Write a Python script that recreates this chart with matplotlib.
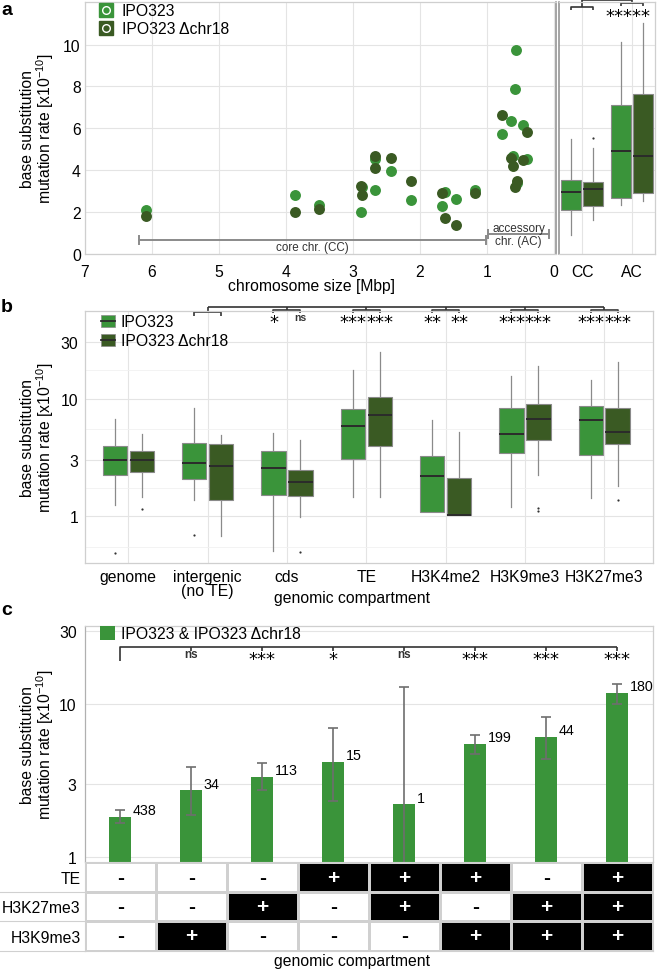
import numpy as np
import matplotlib
matplotlib.use("Agg")
import matplotlib.pyplot as plt
from matplotlib.lines import Line2D
from matplotlib.patches import Patch
from matplotlib.legend_handler import HandlerTuple
from matplotlib.colors import ListedColormap
from matplotlib.ticker import FixedLocator, NullLocator, NullFormatter

plt.rcParams["font.family"] = ["Liberation Sans", "DejaVu Sans"]
plt.rcParams["mathtext.default"] = "regular"

LIGHT = "#3A943A"
DARK = "#3A5A23"
FRAME = "#cfcfcf"
GRID = "#e4e4e4"
EDGE = "#8a8a8a"
FS = 11.3
STAR = dict(family="DejaVu Sans", fontsize=13)

# ---------------- panel a: rate per chromosome ----------------
size_wt = [6.09, 3.86, 3.50, 2.88, 2.86, 2.67, 2.67, 2.44, 2.14, 1.67, 1.62, 1.46, 1.18,
           0.77, 0.64, 0.61, 0.58, 0.57, 0.55, 0.47, 0.41]
rate_wt = [2.11, 2.82, 2.35, 1.99, 3.20, 3.07, 4.55, 3.95, 2.58, 2.28, 2.97, 2.62, 3.07,
           5.73, 6.36, 4.69, 7.88, 9.74, 3.40, 6.16, 4.55]
size_d18 = [6.09, 3.86, 3.50, 2.88, 2.86, 2.67, 2.67, 2.44, 2.14, 1.67, 1.62, 1.46, 1.18,
            0.77, 0.64, 0.61, 0.58, 0.55, 0.47, 0.41]
rate_d18 = [1.83, 2.02, 2.15, 3.23, 2.82, 4.69, 4.09, 4.57, 3.47, 2.90, 1.70, 1.38, 2.91,
            6.65, 4.57, 4.21, 3.18, 3.47, 4.50, 5.81]

# boxes CC / AC, order: CC wt, CC d18, AC wt, AC d18
a_groups = ["CC", "AC"]
a_lo = [0.92, 1.64, 2.35, 2.54]
a_q1 = [2.11, 2.31, 2.69, 2.93]
a_med = [2.96, 3.09, 4.90, 4.68]
a_q3 = [3.55, 3.42, 7.11, 7.62]
a_hi = [5.49, 5.05, 10.1, 11.03]
a_fl = [[], [5.55], [], []]

# ---------------- panel b: compartments ----------------
b_cats = ["genome", "intergenic\n(no TE)", "cds", "TE", "H3K4me2", "H3K9me3", "H3K27me3"]
b_wt_lo = [1.24, 1.39, 0.51, 1.45, 1.09, 1.19, 1.43]
b_wt_q1 = [2.23, 2.08, 1.53, 3.08, 1.09, 3.46, 3.35]
b_wt_med = [3.00, 2.85, 2.56, 5.83, 2.19, 5.03, 6.56]
b_wt_q3 = [3.94, 4.16, 3.57, 8.20, 3.28, 8.37, 8.63]
b_wt_hi = [6.65, 8.37, 5.13, 17.4, 6.52, 15.5, 14.4]
b_wt_fl = [[0.49], [0.70], [], [], [], [], []]
b_d18_lo = [1.46, 0.68, 0.98, 1.45, 1.03, 2.25, 1.80]
b_d18_q1 = [2.37, 1.37, 1.48, 3.94, 1.03, 4.43, 4.10]
b_d18_med = [3.00, 2.70, 1.97, 7.24, 1.03, 6.74, 5.23]
b_d18_q3 = [3.62, 4.08, 2.46, 10.4, 2.11, 8.93, 8.30]
b_d18_hi = [5.03, 4.86, 4.43, 24.9, 5.19, 18.9, 20.6]
b_d18_fl = [[1.16], [], [0.50], [], [], [1.18, 1.12], [1.37]]
b_sig_wt = [None, None, "*", "***", "**", "***", "***"]
b_sig_d18 = [None, None, "ns", "***", "**", "***", "***"]

# ---------------- panel c: combined marks ----------------
c_rate = [1.82, 2.71, 3.32, 4.16, 2.20, 5.46, 6.11, 11.75]
c_lo = [1.67, 1.88, 2.75, 2.31, 0.30, 4.71, 4.37, 9.95]
c_hi = [2.04, 3.86, 4.10, 6.93, 12.85, 6.30, 8.22, 13.45]
c_n = [438, 34, 113, 15, 1, 199, 44, 180]
c_sig = [None, "ns", "***", "*", "ns", "***", "***", "***"]
t_rows = ["TE", "H3K27me3", "H3K9me3"]
t_TE = [0, 0, 0, 1, 1, 1, 0, 1]
t_K27 = [0, 0, 1, 0, 1, 0, 1, 1]
t_K9 = [0, 1, 0, 0, 0, 1, 1, 1]

W, H = 657, 970
fig = plt.figure(figsize=(W / 100, H / 100), dpi=100)


def rect(l, t, r, b):
    return [l / W, 1 - b / H, (r - l) / W, (b - t) / H]


def style(ax):
    for s in ax.spines.values():
        s.set_color(FRAME)
        s.set_linewidth(0.9)
    ax.tick_params(length=0, labelsize=FS)
    ax.grid(True, color=GRID, lw=0.8)
    ax.set_axisbelow(True)


def stats(lo, q1, med, q3, hi, fl):
    return [dict(whislo=a, q1=b, med=c, q3=d, whishi=e, fliers=f)
            for a, b, c, d, e, f in zip(lo, q1, med, q3, hi, fl)]


def boxes(ax, st, pos, width, colors):
    bp = ax.bxp(st, positions=pos, widths=width, patch_artist=True, showcaps=False,
                manage_ticks=False,
                boxprops=dict(edgecolor=EDGE, lw=0.8),
                medianprops=dict(color="#2b2b2b", lw=1.4),
                whiskerprops=dict(color=EDGE, lw=0.9),
                flierprops=dict(marker="o", ms=1.6, mfc="#333333", mec="none"))
    for p, c in zip(bp["boxes"], colors):
        p.set_facecolor(c)
        p.set_zorder(3)
    for m in bp["medians"]:
        m.set_zorder(4)


ylab = "base substitution\nmutation rate [x10$^{-10}$]"

# ======== panel a ========
ax_a = fig.add_axes(rect(85, 3, 556, 255))
style(ax_a)
ax_a.scatter(size_wt, rate_wt, s=62, color=LIGHT, lw=0, zorder=3)
ax_a.scatter(size_d18, rate_d18, s=62, color=DARK, lw=0, zorder=4)
ax_a.set_xlim(7, -0.03)
ax_a.set_ylim(0, 12.03)
ax_a.set_xticks(range(7, -1, -1))
ax_a.set_yticks([0, 2, 4, 6, 8, 10])
ax_a.tick_params(axis="x", pad=7)
ax_a.tick_params(axis="y", pad=3)
ax_a.spines["right"].set_color("#8c8c8c")
ax_a.spines["right"].set_linewidth(1.1)

# chromosome class ranges
ax_a.plot([6.19, 1.01], [0.68, 0.68], color="#8a8a8a", lw=1.4, zorder=2)
ax_a.plot([0.985, 0.07], [0.94, 0.94], color="#8a8a8a", lw=1.4, zorder=2)
for x0, yy in [(6.19, 0.68), (1.01, 0.68), (0.985, 0.94), (0.07, 0.94)]:
    ax_a.plot([x0, x0], [yy - 0.2, yy + 0.2], color="#8a8a8a", lw=1.4, zorder=2)
ax_a.text(3.6, 0.32, "core chr. (CC)", fontsize=8.4, color="#333333", ha="center", va="center")
ax_a.text(0.53, 0.94, "accessory\nchr. (AC)", fontsize=8.5, color="#333333", ha="center",
          va="center", linespacing=1.05)

h_wt = (Line2D([], [], ls="", marker="s", ms=10, mfc=LIGHT, mec=LIGHT),
        Line2D([], [], ls="", marker="o", ms=5.5, mfc=LIGHT, mec="white", mew=1.0))
h_d18 = (Line2D([], [], ls="", marker="s", ms=10, mfc=DARK, mec=DARK),
         Line2D([], [], ls="", marker="o", ms=5.5, mfc=DARK, mec="white", mew=1.0))
ax_a.legend([h_wt, h_d18], ["IPO323", "IPO323 \u0394chr18"],
            handler_map={tuple: HandlerTuple(ndivide=1, pad=0)},
            loc="upper left", bbox_to_anchor=(0.028, 0.995), frameon=False, fontsize=FS,
            handlelength=1.0, handletextpad=0.5, labelspacing=0.2, borderpad=0,
            borderaxespad=0)

ax_ab = fig.add_axes(rect(559, 3, 655, 255))
style(ax_ab)
ax_ab.spines["left"].set_color("#8c8c8c")
ax_ab.spines["left"].set_linewidth(1.1)
boxes(ax_ab, stats(a_lo, a_q1, a_med, a_q3, a_hi, a_fl),
      [1 - 0.22, 1 + 0.22, 2 - 0.22, 2 + 0.22], 0.39, [LIGHT, DARK, LIGHT, DARK])
ax_ab.set_xlim(0.54, 2.46)
ax_ab.set_ylim(0, 12.03)
ax_ab.set_yticks([0, 2, 4, 6, 8, 10])
ax_ab.yaxis.set_major_formatter(NullFormatter())
ax_ab.set_xticks([1, 2])
ax_ab.set_xticklabels(a_groups)
ax_ab.tick_params(axis="x", pad=7)

tr = ax_ab.get_xaxis_transform()
kw = dict(color="#333333", lw=1.2, transform=tr, clip_on=False, solid_capstyle="butt")
ax_ab.plot([0.78, 0.78, 1.22, 1.22], [0.970, 0.980, 0.980, 0.970], **kw)
ax_ab.plot([1.78, 1.78, 2.22, 2.22], [0.984, 0.996, 0.996, 0.984], **kw)
ax_ab.plot([1, 1, 2, 2], [0.980, 1.006, 1.006, 0.996], **kw)
ax_ab.text(1.92, 0.944, "*****", transform=tr, ha="center", va="center", **STAR)

# ======== panel b ========
ax_b = fig.add_axes(rect(85, 311.7, 652.7, 564.3))
style(ax_b)
ax_b.set_yscale("log")
ax_b.set_ylim(0.4, 55.6)
ax_b.set_xlim(0.454, 7.61)
ax_b.yaxis.set_major_locator(FixedLocator([1, 3, 10, 30]))
ax_b.set_yticklabels(["1", "3", "10", "30"])
ax_b.yaxis.set_minor_locator(FixedLocator(np.sqrt([0.3, 3, 30, 300])))
ax_b.yaxis.set_minor_formatter(NullFormatter())
ax_b.tick_params(which="minor", length=0)
ax_b.grid(True, which="minor", axis="y", color="#f1f1f1", lw=0.6)
ax_b.tick_params(axis="y", pad=5)
ax_b.tick_params(axis="x", pad=4)
xb = np.arange(1, len(b_cats) + 1)
ax_b.set_xticks(xb)
ax_b.set_xticklabels(b_cats)
for lbl in ax_b.get_xticklabels():
    lbl.set_linespacing(0.95)
off = 0.17
boxes(ax_b, stats(b_wt_lo, b_wt_q1, b_wt_med, b_wt_q3, b_wt_hi, b_wt_fl),
      xb - off, 0.31, [LIGHT] * 7)
boxes(ax_b, stats(b_d18_lo, b_d18_q1, b_d18_med, b_d18_q3, b_d18_hi, b_d18_fl),
      xb + off, 0.31, [DARK] * 7)

hb_wt = (Patch(fc=LIGHT, ec=EDGE, lw=0.5), Line2D([], [], color="#2b2b2b", lw=1.3))
hb_d18 = (Patch(fc=DARK, ec=EDGE, lw=0.5), Line2D([], [], color="#2b2b2b", lw=1.3))
ax_b.legend([hb_wt, hb_d18], ["IPO323", "IPO323 \u0394chr18"],
            handler_map={tuple: HandlerTuple(ndivide=1, pad=0)},
            loc="upper left", bbox_to_anchor=(0.028, 0.985), frameon=False, fontsize=FS,
            handlelength=0.9, handleheight=0.85, handletextpad=0.35, labelspacing=0.25,
            borderpad=0, borderaxespad=0)

trb = ax_b.get_xaxis_transform()
kwb = dict(color="#333333", lw=1.2, transform=trb, clip_on=False, solid_capstyle="butt")
ref = 2
ax_b.plot([ref - off, ref - off, ref + off, ref + off], [0.980, 0.994, 0.994, 0.980], **kwb)
ax_b.plot([ref, ref], [0.994, 1.0135], **kwb)
ax_b.plot([ref, xb[-1]], [1.0135, 1.0135], **kwb)
for x, s1, s2 in zip(xb, b_sig_wt, b_sig_d18):
    if s1 is None:
        continue
    ax_b.plot([x - off, x - off, x + off, x + off], [0.989, 1.003, 1.003, 0.989], **kwb)
    ax_b.plot([x, x], [1.003, 1.0135], **kwb)
    for xx, s in [(x - off, s1), (x + off, s2)]:
        if s == "ns":
            ax_b.text(xx, 0.975, s, transform=trb, ha="center", va="center",
                      fontsize=7.5, fontweight="bold", color="#333333")
        else:
            ax_b.text(xx, 0.957, s, transform=trb, ha="center", va="center", **STAR)

# ======== panel c ========
ax_c = fig.add_axes(rect(85, 626.7, 652.7, 863.3))
style(ax_c)
ax_c.grid(False, axis="x")
ax_c.set_yscale("log")
ax_c.set_ylim(0.923, 32.5)
ax_c.set_xlim(0.5, 8.5)
ax_c.yaxis.set_major_locator(FixedLocator([1, 3, 10, 30]))
ax_c.set_yticklabels(["1", "3", "10", "30"])
ax_c.yaxis.set_minor_locator(NullLocator())
ax_c.tick_params(axis="y", pad=6)
ax_c.set_xticks([])
ax_c.spines["left"].set_color("#b0b0b0")
ax_c.spines["bottom"].set_visible(False)
xc = np.arange(1, len(c_rate) + 1)
rate = np.array(c_rate)
yerr = [rate - np.array(c_lo), np.array(c_hi) - rate]
ax_c.bar(xc, rate, width=0.31, color=LIGHT, bottom=0.01, zorder=2,
         label="IPO323 & IPO323 \u0394chr18")
ax_c.errorbar(xc, rate, yerr=yerr, fmt="none", ecolor="#6e6e6e", elinewidth=1.2,
              capsize=3.6, capthick=1.2, zorder=3)
for x, r, n in zip(xc, rate, c_n):
    ax_c.annotate(str(n), (x + 0.155, r), xytext=(1, 5), textcoords="offset points",
                  ha="left", va="center", fontsize=10.3)
ax_c.legend(loc="upper left", bbox_to_anchor=(0.027, 0.998), frameon=False, fontsize=FS,
            handlelength=0.95, handleheight=0.95, handletextpad=0.35, borderpad=0,
            borderaxespad=0)

trc = ax_c.get_xaxis_transform()
kwc = dict(color="#333333", lw=1.2, transform=trc, clip_on=False, solid_capstyle="butt")
ax_c.plot([xc[0], xc[0], xc[-1]], [0.852, 0.91, 0.91], **kwc)
for x, s in zip(xc, c_sig):
    if s is None:
        continue
    ax_c.plot([x, x], [0.91, 0.893], **kwc)
    if s == "ns":
        ax_c.text(x, 0.880, s, transform=trc, ha="center", va="center",
                  fontsize=8.5, fontweight="bold", color="#333333")
    else:
        ax_c.text(x, 0.858, s, transform=trc, ha="center", va="center", **STAR)

# ======== table under panel c ========
ax_t = fig.add_axes(rect(85, 863.3, 652.7, 951.7))
mat = np.array([t_TE, t_K27, t_K9])
ax_t.pcolormesh(np.arange(0.5, 9.5), np.arange(0, 4), mat,
                cmap=ListedColormap(["white", "black"]), vmin=0, vmax=1,
                edgecolors="#d0d0d0", linewidth=0.8)
ax_t.set_xlim(0.5, 8.5)
ax_t.set_ylim(3, 0)
for i in range(mat.shape[0]):
    for j in range(mat.shape[1]):
        on = mat[i, j] == 1
        ax_t.text(j + 1, i + 0.5, "+" if on else "-", ha="center", va="center",
                  color="white" if on else "black", fontsize=15, fontweight="bold")
ax_t.set_xticks([])
ax_t.set_yticks([0.5, 1.5, 2.5])
ax_t.set_yticklabels(t_rows)
ax_t.tick_params(length=0, labelsize=FS, pad=3)
for s in ax_t.spines.values():
    s.set_color("#d0d0d0")
    s.set_linewidth(0.8)
ytr = ax_t.get_yaxis_transform()
for yy in [1, 2, 3]:
    ax_t.plot([-0.15, 0], [yy, yy], color="#d0d0d0", lw=0.8, transform=ytr, clip_on=False)

# ======== shared texts ========
for yc in [129, 438, 745]:
    fig.text(38 / W, 1 - yc / H, ylab, rotation=90, ha="center", va="center",
             fontsize=FS, linespacing=0.95)
fig.text(311 / W, 1 - 287 / H, "chromosome size [Mbp]", ha="center", va="center", fontsize=FS)
fig.text(352 / W, 1 - 599 / H, "genomic compartment", ha="center", va="center", fontsize=FS)
fig.text(352 / W, 1 - 962 / H, "genomic compartment", ha="center", va="center", fontsize=FS)
for letter, yb in [("a", 15), ("b", 312), ("c", 615)]:
    fig.text(1 / W, 1 - yb / H, letter, ha="left", va="baseline", fontsize=14,
             fontweight="bold")

fig.savefig("out.png", dpi=100)
plt.close(fig)
